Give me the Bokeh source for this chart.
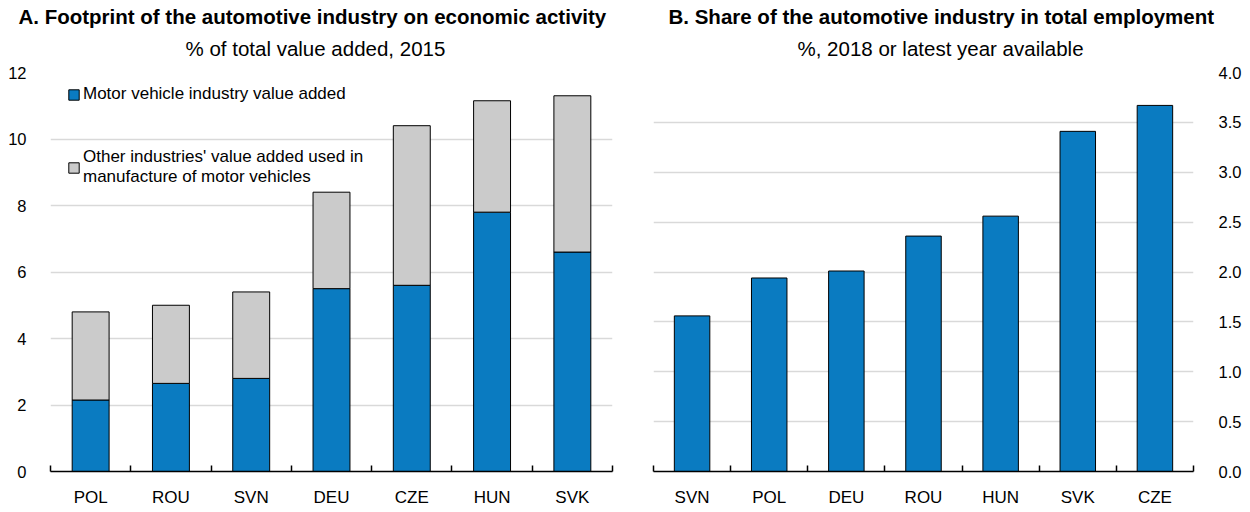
from bokeh.plotting import figure
from bokeh.models import Range1d, FixedTicker, Title, Legend, LegendItem, ColumnDataSource, NumeralTickFormatter
from bokeh.layouts import row
from bokeh.embed import file_html
from bokeh.resources import INLINE

# ---------------- data ----------------
left_countries = ["POL", "ROU", "SVN", "DEU", "CZE", "HUN", "SVK"]
motor_va = [2.15, 2.65, 2.8, 5.5, 5.6, 7.8, 6.6]
other_va = [2.65, 2.35, 2.6, 2.9, 4.8, 3.35, 4.7]

right_countries = ["SVN", "POL", "DEU", "ROU", "HUN", "SVK", "CZE"]
employment_share = [1.56, 1.94, 2.01, 2.36, 2.56, 3.41, 3.67]

left_ticks = [0, 2, 4, 6, 8, 10, 12]
right_ticks = [0.0, 0.5, 1.0, 1.5, 2.0, 2.5, 3.0, 3.5, 4.0]

FONT = "Liberation Sans"
BLUE = "#0A7BC1"
GREY = "#CBCBCB"
GRID = "#D9D9D9"


def style_x(p, cats):
    n = len(cats)
    centers = [i + 0.5 for i in range(n)]
    p.xaxis.ticker = FixedTicker(ticks=centers, minor_ticks=list(range(n + 1)))
    p.xaxis.major_label_overrides = {c: lab for c, lab in zip(centers, cats)}
    p.xaxis.axis_line_color = "black"
    p.xaxis.axis_line_width = 1.5
    p.xaxis.major_tick_line_color = None
    p.xaxis.minor_tick_line_color = "black"
    p.xaxis.minor_tick_line_width = 1.5
    p.xaxis.minor_tick_in = 6
    p.xaxis.minor_tick_out = 0
    p.xaxis.major_label_standoff = 10
    p.xaxis.major_label_text_font = FONT
    p.xaxis.major_label_text_font_size = "17px"
    p.xaxis.major_label_text_color = "black"
    p.xgrid.grid_line_color = None


def style_y(p, ticks, standoff):
    p.yaxis.ticker = FixedTicker(ticks=ticks, minor_ticks=[])
    p.yaxis.axis_line_color = None
    p.yaxis.major_tick_line_color = None
    p.yaxis.minor_tick_line_color = None
    p.yaxis.major_label_standoff = standoff
    p.yaxis.major_label_text_font = FONT
    p.yaxis.major_label_text_font_size = "16.5px"
    p.yaxis.major_label_text_color = "black"
    p.ygrid.ticker = FixedTicker(ticks=ticks)
    p.ygrid.grid_line_color = GRID
    p.ygrid.grid_line_width = 1.5


def add_titles(p, main, sub, main_offset, sub_offset):
    p.add_layout(Title(text=sub, align="left", text_font=FONT, text_font_size="20.5px",
                       text_font_style="normal", text_color="black",
                       standoff=26, offset=sub_offset), "above")
    p.add_layout(Title(text=main, align="left", text_font=FONT, text_font_size="20.5px",
                       text_font_style="bold", text_color="black",
                       standoff=-12, offset=main_offset), "above")


# ---------------- panel A ----------------
src_a = ColumnDataSource(dict(x=[i + 0.5 for i in range(len(left_countries))],
                              motor=motor_va, other=other_va))
pa = figure(width=633, height=511, x_range=Range1d(0, len(left_countries)), y_range=Range1d(0, 12),
            output_backend="svg", toolbar_location=None,
            min_border_left=50, min_border_right=21, min_border_bottom=40, min_border_top=72)
pa.outline_line_color = None
rs = pa.vbar_stack(["motor", "other"], x="x", width=0.46, source=src_a,
                   fill_color=[BLUE, GREY], line_color="black", line_width=1)
style_x(pa, left_countries)
style_y(pa, left_ticks, 18)
add_titles(pa, "A. Footprint of the automotive industry on economic activity",
           "% of total value added, 2015", -32, 135)
legend = Legend(items=[
    LegendItem(label="Motor vehicle industry value added", renderers=[rs[0]]),
    LegendItem(label="Other industries' value added used in\nmanufacture of motor vehicles", renderers=[rs[1]]),
], location=(17, 284), margin=0, padding=0, spacing=43, glyph_width=13, glyph_height=13,
    label_text_font=FONT, label_text_font_size="17px", label_text_color="black", label_standoff=3,
    background_fill_alpha=0, border_line_color=None)
pa.add_layout(legend)

# ---------------- panel B ----------------
src_b = ColumnDataSource(dict(x=[i + 0.5 for i in range(len(right_countries))], share=employment_share))
pb = figure(width=617, height=511, x_range=Range1d(0, len(right_countries)), y_range=Range1d(0, 4),
            y_axis_location="right", output_backend="svg", toolbar_location=None,
            min_border_left=20, min_border_right=57, min_border_bottom=40, min_border_top=72)
pb.outline_line_color = None
pb.vbar(x="x", top="share", width=0.46, source=src_b, fill_color=BLUE, line_color="black", line_width=1)
style_x(pb, right_countries)
style_y(pb, right_ticks, 19)
pb.yaxis.formatter = NumeralTickFormatter(format="0.0")
add_titles(pb, "B. Share of the automotive industry in total employment",
           "%, 2018 or latest year available", 15, 144)

layout = row(pa, pb)
open("out.html", "w").write(file_html(layout, INLINE))
